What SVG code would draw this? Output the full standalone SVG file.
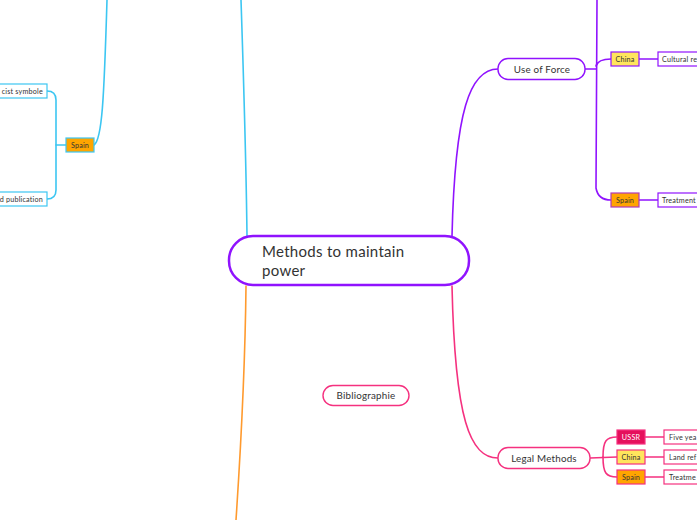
<svg xmlns="http://www.w3.org/2000/svg" width="697" height="520" viewBox="0 0 697 520">
<style>
text{font-family:Lato,"Noto Sans","Liberation Sans",sans-serif;fill:#333}
.c{fill:none;stroke-width:1.6;stroke-linecap:round}
.b{stroke:#3cc6f2}.o{stroke:#ff9a2e}.p{stroke:#9013fe}.k{stroke:#f5317f}
.sm{font-size:7.2px;letter-spacing:0.2px}
.tp{fill:#fff;stroke-width:1.2}
.mid{font-size:9.8px;text-anchor:middle;letter-spacing:0.2px}
</style>
<rect width="697" height="520" fill="#fff"/>
<g id="connectors">
<path class="c b" d="M247,236 C246,150 243,60 241,0"/>
<path class="c o" d="M246,286 C245,380 240,460 236,520"/>
<path class="c p" d="M452,236 C455,110 470,69 498,69"/>
<path class="c k" d="M452,286 C455,420 470,458 498,458"/>
<path class="c p" d="M585,69 L596,69"/>
<path class="c p" d="M597,0 L596,188 Q598,200 611,200"/>
<path class="c p" d="M596,66 Q598,59 611,59"/>
<path class="c p" d="M639,59 L658,59"/>
<path class="c p" d="M639,200 L658,200"/>
<path class="c k" d="M590,458 L617,457"/>
<path class="c k" d="M603,457 C603,441 606,437 617,437"/>
<path class="c k" d="M603,457 C603,473 606,477 617,477"/>
<path class="c k" d="M645,437 L664,437"/>
<path class="c k" d="M645,457 L664,457"/>
<path class="c k" d="M645,477 L664,477"/>
<path class="c b" d="M94,145 C102,140 104,100 107,0"/>
<path class="c b" d="M56,145 L66,145"/>
<path class="c b" d="M47,91 Q56,91 56,100 L56,190 Q56,199 47,199"/>
</g>
<g id="center">
<rect x="229" y="236" width="240" height="49" rx="24" fill="#fff" stroke="#9013fe" stroke-width="2.5"/>
<text x="262" y="257" font-size="15" letter-spacing="0.3">Methods to maintain</text>
<text x="262" y="276" font-size="15" letter-spacing="0.3">power</text>
</g>
<g id="use-of-force">
<rect x="498" y="58.5" width="87" height="21" rx="10" fill="#fff" stroke="#9013fe" stroke-width="1.4"/>
<text x="542" y="72.5" class="mid">Use of Force</text>
</g>
<g id="force-china">
<rect x="611" y="52" width="28" height="14" fill="#ffe55c" stroke="#9013fe" stroke-width="1.2"/>
<text x="625" y="61.5" class="sm" text-anchor="middle">China</text>
</g>
<g id="force-china-item">
<rect x="658" y="52" width="50" height="14" class="tp" stroke="#9013fe"/>
<text x="662" y="61.5" class="sm">Cultural re</text>
</g>
<g id="force-spain">
<rect x="611" y="193" width="28" height="14" fill="#ffa500" stroke="#b03ab8" stroke-width="1.2"/>
<text x="625" y="202.5" class="sm" text-anchor="middle">Spain</text>
</g>
<g id="force-spain-item">
<rect x="658" y="193" width="50" height="14" class="tp" stroke="#9013fe"/>
<text x="662" y="202.5" class="sm">Treatment</text>
</g>
<g id="legal-methods">
<rect x="498" y="447.5" width="92" height="21" rx="10" fill="#fff" stroke="#f5317f" stroke-width="1.4"/>
<text x="544" y="461.5" class="mid">Legal Methods</text>
</g>
<g id="legal-ussr">
<rect x="617" y="430" width="28" height="14" fill="#e5105c" stroke="#f5317f" stroke-width="1.2"/>
<text x="631" y="439.5" class="sm" text-anchor="middle" style="fill:#fff">USSR</text>
</g>
<g id="legal-china">
<rect x="617" y="450" width="28" height="14" fill="#ffe55c" stroke="#f5317f" stroke-width="1.2"/>
<text x="631" y="459.5" class="sm" text-anchor="middle">China</text>
</g>
<g id="legal-spain">
<rect x="617" y="470" width="28" height="14" fill="#ffa500" stroke="#f5317f" stroke-width="1.2"/>
<text x="631" y="479.5" class="sm" text-anchor="middle">Spain</text>
</g>
<g id="legal-ussr-item">
<rect x="664" y="430" width="50" height="14" class="tp" stroke="#f5317f"/>
<text x="669" y="439.5" class="sm">Five yea</text>
</g>
<g id="legal-china-item">
<rect x="664" y="450" width="50" height="14" class="tp" stroke="#f5317f"/>
<text x="669" y="459.5" class="sm">Land ref</text>
</g>
<g id="legal-spain-item">
<rect x="664" y="470" width="50" height="14" class="tp" stroke="#f5317f"/>
<text x="669" y="479.5" class="sm">Treatme</text>
</g>
<g id="bibliographie">
<rect x="323" y="385.5" width="86" height="20" rx="10" fill="#fff" stroke="#f5317f" stroke-width="1.4"/>
<text x="366" y="399" class="mid">Bibliographie</text>
</g>
<g id="left-spain">
<rect x="66" y="138" width="28" height="14" fill="#ffa500" stroke="#3cc6f2" stroke-width="1.2"/>
<text x="80" y="147.5" class="sm" text-anchor="middle">Spain</text>
</g>
<g id="left-symbole">
<rect x="-30" y="84" width="77" height="14" class="tp" stroke="#3cc6f2"/>
<text x="43" y="93.5" class="sm" text-anchor="end">cist symbole</text>
</g>
<g id="left-publication">
<rect x="-30" y="192" width="77" height="14" class="tp" stroke="#3cc6f2"/>
<text x="43" y="201.5" class="sm" text-anchor="end">d publication</text>
</g>
</svg>
